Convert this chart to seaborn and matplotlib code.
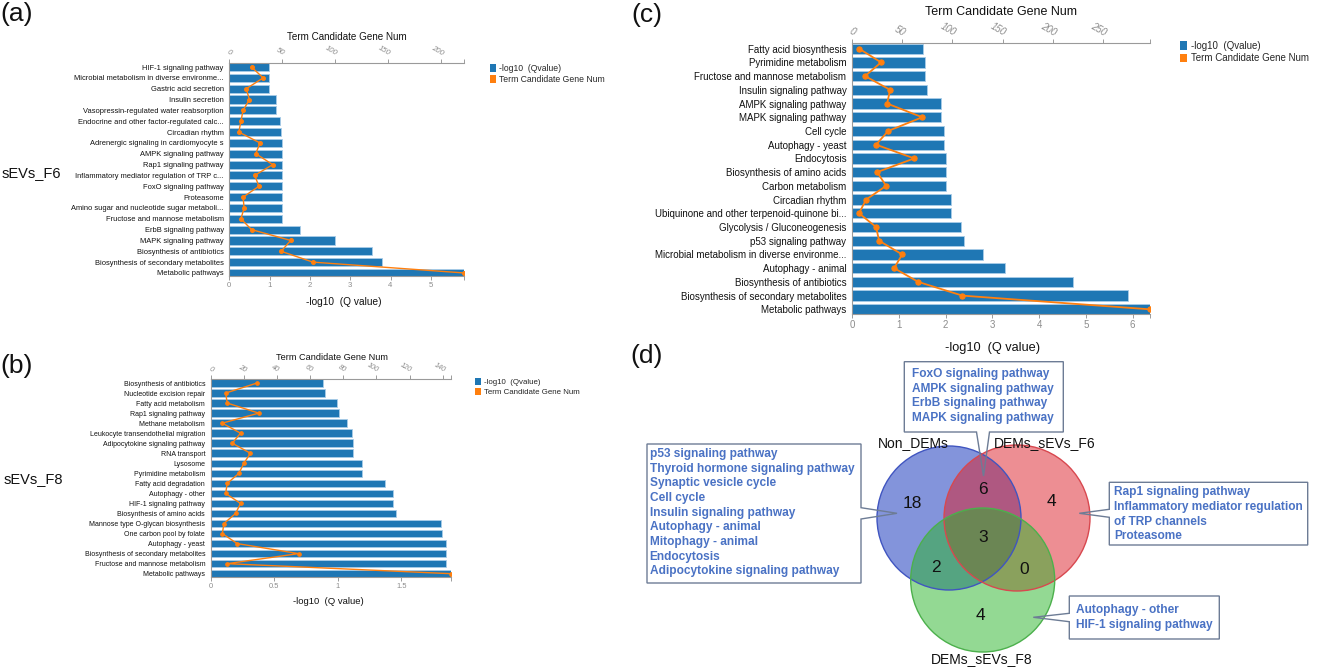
import numpy as np
import pandas as pd
import seaborn as sns
import matplotlib.pyplot as plt
from matplotlib.patches import Patch, Circle, Polygon

# figure is 1333 x 669 px; layout numbers below are in pixels (y down)
W, H = 1333, 669
BLUE = '#1f77b4'
ORANGE = '#ff7f0e'
GREY = '#8c8c8c'
VENN_TXT = '#4a72c4'

# ---- panel (a): sEVs_F6 ----
a_terms = ["HIF-1 signaling pathway", "Microbial metabolism in diverse environme...",
           "Gastric acid secretion", "Insulin secretion", "Vasopressin-regulated water reabsorption",
           "Endocrine and other factor-regulated calc...", "Circadian rhythm",
           "Adrenergic signaling in cardiomyocyte s", "AMPK signaling pathway", "Rap1 signaling pathway",
           "Inflammatory mediator regulation of TRP c...", "FoxO signaling pathway", "Proteasome",
           "Amino sugar and nucleotide sugar metaboli...", "Fructose and mannose metabolism",
           "ErbB signaling pathway", "MAPK signaling pathway", "Biosynthesis of antibiotics",
           "Biosynthesis of secondary metabolites", "Metabolic pathways"]
a_qval = [0.98, 0.98, 0.99, 1.16, 1.16, 1.27, 1.28, 1.31, 1.31, 1.31,
          1.31, 1.31, 1.31, 1.31, 1.31, 1.76, 2.62, 3.55, 3.78, 5.83]
a_genes = [21, 32, 16, 19, 13, 11, 9, 29, 25, 41, 24, 28, 13, 14, 11, 21, 58, 49, 79, 222]

# ---- panel (b): sEVs_F8 ----
b_terms = ["Biosynthesis of antibiotics", "Nucleotide excision repair", "Fatty acid metabolism",
           "Rap1 signaling pathway", "Methane metabolism", "Leukocyte transendothelial migration",
           "Adipocytokine signaling pathway", "RNA transport", "Lysosome", "Pyrimidine metabolism",
           "Fatty acid degradation", "Autophagy - other", "HIF-1 signaling pathway",
           "Biosynthesis of amino acids", "Mannose type O-glycan biosynthesis", "One carbon pool by folate",
           "Autophagy - yeast", "Biosynthesis of secondary metabolites", "Fructose and mannose metabolism",
           "Metabolic pathways"]
b_qval = [0.885, 0.90, 0.99, 1.01, 1.07, 1.11, 1.12, 1.12, 1.19, 1.19,
          1.37, 1.43, 1.43, 1.46, 1.81, 1.82, 1.85, 1.85, 1.85, 1.89]
b_genes = [28, 9, 10, 29, 7, 18, 13, 24, 20, 17, 10, 9, 18, 15, 8, 7, 16, 53, 10, 145]

# ---- panel (c) ----
c_terms = ["Fatty acid biosynthesis", "Pyrimidine metabolism", "Fructose and mannose metabolism",
           "Insulin signaling pathway", "AMPK signaling pathway", "MAPK signaling pathway", "Cell cycle",
           "Autophagy - yeast", "Endocytosis", "Biosynthesis of amino acids", "Carbon metabolism",
           "Circadian rhythm", "Ubiquinone and other terpenoid-quinone bi...", "Glycolysis / Gluconeogenesis",
           "p53 signaling pathway", "Microbial metabolism in diverse environme...", "Autophagy - animal",
           "Biosynthesis of antibiotics", "Biosynthesis of secondary metabolites", "Metabolic pathways"]
c_qval = [1.51, 1.56, 1.56, 1.61, 1.91, 1.91, 1.96, 1.97, 2.02, 2.02,
          2.02, 2.11, 2.11, 2.33, 2.40, 2.79, 3.28, 4.73, 5.90, 6.37]
c_genes = [7, 29, 13, 38, 35, 70, 36, 24, 62, 25, 34, 14, 7, 24, 27, 50, 42, 66, 110, 297]

# ---- panel (d): venn ----
venn_sets = ["Non_DEMs", "DEMs_sEVs_F6", "DEMs_sEVs_F8"]
venn_regions = ["100", "010", "001", "110", "101", "011", "111"]
venn_counts = [18, 4, 4, 6, 2, 0, 3]
box_shared = ["FoxO signaling pathway", "AMPK signaling pathway", "ErbB signaling pathway",
              "MAPK signaling pathway"]
box_non = ["p53 signaling pathway", "Thyroid hormone signaling pathway", "Synaptic vesicle cycle",
           "Cell cycle", "Insulin signaling pathway", "Autophagy - animal", "Mitophagy - animal",
           "Endocytosis", "Adipocytokine signaling pathway"]
box_f6 = ["Rap1 signaling pathway", "Inflammatory mediator regulation", "of TRP channels", "Proteasome"]
box_f8 = ["Autophagy - other", "HIF-1 signaling pathway"]


def rect(left, top, right, bottom):
    return [left / W, 1 - bottom / H, (right - left) / W, (bottom - top) / H]


def ftext(fig, x, y, s, **kw):
    fig.text(x / W, 1 - y / H, s, ha=kw.pop('ha', 'center'), va=kw.pop('va', 'center'), **kw)


def enrich_panel(fig, box, terms, qval, genes, ylim, qticks, gticks, lab_fs, tick_fs, top_fs, lw, ms):
    '''bar of -log10 Q (bottom axis) + line of gene number (top axis)'''
    df = pd.DataFrame({'term': terms, 'q': qval, 'genes': genes, 'pos': np.arange(len(terms))})
    ax = fig.add_axes(box)
    sns.barplot(data=df, x='q', y='term', orient='h', color=BLUE, saturation=1, width=0.75,
                edgecolor='#a9cce8', linewidth=0.6, ax=ax)
    ax2 = ax.twiny()
    sns.lineplot(data=df, x='genes', y='pos', orient='y', sort=False, estimator=None,
                 color=ORANGE, lw=lw, marker='o', markersize=ms, markeredgecolor=ORANGE, ax=ax2)
    ax.set_xlim(0, max(qval))
    ax2.set_xlim(0, max(genes))
    ax.set_ylim(*ylim)
    for a in (ax, ax2):
        a.set_xlabel('')
        a.set_ylabel('')
    ax.set_xticks(qticks)
    ax.set_xticklabels([('%g' % t) for t in qticks])
    ax.set_xticks([max(qval)], minor=True)
    ax2.set_xticks(gticks)
    ax2.set_xticks([max(genes)], minor=True)

    for s in ('top', 'right'):
        ax.spines[s].set_visible(False)
    for s in ('left', 'right', 'bottom'):
        ax2.spines[s].set_visible(False)
    for sp in (ax.spines['left'], ax.spines['bottom'], ax2.spines['top']):
        sp.set_color('#9a9a9a')
        sp.set_linewidth(0.8)

    ax.tick_params(axis='x', which='both', colors=GREY, labelsize=tick_fs, length=3, width=0.6, pad=1.5)
    ax.tick_params(axis='y', length=2.5, width=0.6, color=GREY, labelsize=lab_fs, labelcolor='#111111', pad=1.5)
    ax2.tick_params(axis='x', which='both', colors=GREY, labelsize=top_fs, length=3, width=0.6, pad=1)
    for lbl in ax2.get_xticklabels():
        lbl.set_rotation(-30)
        lbl.set_ha('right')
        lbl.set_va('bottom')
        lbl.set_rotation_mode('anchor')
        lbl.set_fontstyle('italic')
    return ax, ax2


def legend_at(fig, x, y, fs):
    handles = [Patch(facecolor=BLUE, edgecolor='none', label='-log10  (Qvalue)'),
               Patch(facecolor=ORANGE, edgecolor='none', label='Term Candidate Gene Num')]
    fig.legend(handles=handles, loc='upper left', bbox_to_anchor=(x / W, 1 - y / H), frameon=False,
               fontsize=fs, handlelength=0.75, handleheight=1.0, handletextpad=0.35,
               labelspacing=0.25, borderpad=0, borderaxespad=0)


def callout(ax, x0, y0, x1, y1, side, a, b, tip, lines, fy0, fx0, fs):
    if side == 'bottom':
        pts = [(x0, y0), (x1, y0), (x1, y1), (b, y1), tip, (a, y1), (x0, y1)]
    elif side == 'right':
        pts = [(x0, y0), (x1, y0), (x1, a), tip, (x1, b), (x1, y1), (x0, y1)]
    else:
        pts = [(x0, y0), (x1, y0), (x1, y1), (x0, y1), (x0, b), tip, (x0, a)]
    ax.add_patch(Polygon(pts, closed=True, fill=False, edgecolor='#6d7c95', lw=1.0, zorder=5))
    for i, s in enumerate(lines):
        ax.text(fx0, fy0 + i * 14.65, s, ha='left', va='center', color=VENN_TXT,
                fontsize=fs, fontweight='bold', zorder=6)


if __name__ == "__main__":
    sns.set_theme(style='white')
    plt.rcParams['font.family'] = ['Liberation Sans', 'DejaVu Sans']

    fig = plt.figure(figsize=(W / 100, H / 100), dpi=100)

    # (a)
    enrich_panel(fig, rect(229.3, 62.7, 464.3, 276), a_terms, a_qval, a_genes, (19.28, -0.4),
                 [0, 1, 2, 3, 4, 5], [0, 50, 100, 150, 200], 5.4, 5.6, 5.6, 1.0, 2.8)
    ftext(fig, 346.5, 37.5, 'Term Candidate Gene Num', fontsize=7.1, color='#111111')
    ftext(fig, 344, 302, '-log10  (Q value)', fontsize=7.3, color='#111111')
    ftext(fig, 31, 173, 'sEVs_F6', fontsize=10.5, color='#111111')
    ftext(fig, 17, 14, '(a)', fontsize=19, color='#111111')
    legend_at(fig, 490, 64, 6.2)

    # (b)
    enrich_panel(fig, rect(210.7, 379, 451, 577), b_terms, b_qval, b_genes, (19.33, -0.4),
                 [0, 0.5, 1, 1.5], [0, 20, 40, 60, 80, 100, 120, 140], 5.0, 5.4, 5.2, 1.0, 2.6)
    ftext(fig, 331.5, 357.5, 'Term Candidate Gene Num', fontsize=6.6, color='#111111')
    ftext(fig, 328, 601, '-log10  (Q value)', fontsize=6.8, color='#111111')
    ftext(fig, 33, 479, 'sEVs_F8', fontsize=10.5, color='#111111')
    ftext(fig, 17, 366, '(b)', fontsize=19, color='#111111')
    legend_at(fig, 475, 378, 5.7)

    # (c)
    enrich_panel(fig, rect(852, 43.3, 1150, 314), c_terms, c_qval, c_genes, (19.34, -0.39),
                 [0, 1, 2, 3, 4, 5, 6], [0, 50, 100, 150, 200, 250], 7.0, 7.0, 7.0, 1.3, 3.8)
    ftext(fig, 1001, 11.7, 'Term Candidate Gene Num', fontsize=9, color='#111111')
    ftext(fig, 993, 348, '-log10  (Q value)', fontsize=9.2, color='#111111')
    ftext(fig, 647, 15, '(c)', fontsize=19, color='#111111')
    legend_at(fig, 1180, 41, 7)

    # (d) venn, drawn on a full-figure overlay in pixel units
    ov = fig.add_axes([0, 0, 1, 1])
    ov.set_xlim(0, W)
    ov.set_ylim(H, 0)
    ov.axis('off')
    ov.patch.set_alpha(0)
    ftext(fig, 646.5, 356, '(d)', fontsize=19, color='#111111')

    circles = [((949, 518), 72, '#1e3cbe', 0.55, '#4055c0'),
               ((1017, 518), 73, '#dc1e28', 0.5, '#d8484f'),
               ((982.7, 580), 72, '#28b428', 0.5, '#4cb04c')]
    for (c, r, fc, al, ec) in circles:
        ov.add_patch(Circle(c, r, facecolor=fc, edgecolor='none', alpha=al, zorder=2))
    for (c, r, fc, al, ec) in circles:
        ov.add_patch(Circle(c, r, fill=False, edgecolor=ec, lw=1.0, zorder=3))

    count_xy = {"100": (912, 503), "010": (1051, 502), "001": (980, 615), "110": (983, 490),
                "101": (935.5, 568), "011": (1024, 570), "111": (983, 537)}
    for reg, n in zip(venn_regions, venn_counts):
        x, y = count_xy[reg]
        ov.text(x, y, str(n), ha='center', va='center', fontsize=12.5, color='#111111', zorder=7)

    for name, (x, y) in zip(venn_sets, [(913.5, 443), (1044.5, 443), (981.5, 659)]):
        ov.text(x, y, name, ha='center', va='center', fontsize=10, color='#111111', zorder=7)

    callout(ov, 904.3, 361.7, 1063.3, 432, 'bottom', 976.5, 989.5, (983.5, 476),
            box_shared, 374, 912.5, 8.6)
    callout(ov, 647, 444, 861, 583, 'right', 507.7, 519, (897, 513.3),
            box_non, 454, 649.5, 8.6)
    callout(ov, 1109.3, 482.3, 1307.7, 545, 'left', 509.3, 517.3, (1079.3, 513.3),
            box_f6, 492.3, 1114.5, 8.6)
    callout(ov, 1069.3, 596, 1219.3, 639, 'left', 613.3, 621.7, (1033.3, 617.3),
            box_f8, 610, 1075.5, 8.6)

    fig.savefig('out.png', dpi=100)
